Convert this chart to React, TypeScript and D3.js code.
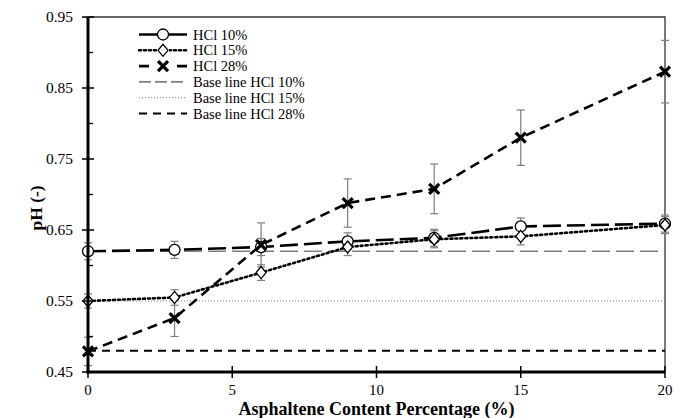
import React from 'react';
import * as d3 from 'd3';

// asphaltene content (%) and measured pH
const asphaltene = [0, 3, 6, 9, 12, 15, 20];
const hcl10 = [0.620, 0.622, 0.626, 0.634, 0.639, 0.655, 0.659];
const hcl10Err = [0.012, 0.012, 0.012, 0.012, 0.012, 0.012, 0.012];
const hcl15 = [0.550, 0.555, 0.590, 0.626, 0.637, 0.641, 0.657];
const hcl15Err = [0.010, 0.011, 0.011, 0.012, 0.012, 0.012, 0.012];
const hcl28 = [0.479, 0.526, 0.629, 0.688, 0.708, 0.780, 0.873];
const hcl28Err = [0.020, 0.026, 0.031, 0.034, 0.035, 0.039, 0.044];
const baseLines = [0.62, 0.55, 0.48];

const xTicks = [0, 5, 10, 15, 20];
const yTicks = [0.45, 0.55, 0.65, 0.75, 0.85, 0.95];
const yMinor = [0.5, 0.6, 0.7, 0.8, 0.9];

const W = 675;
const H = 418;
const left = 88, right = 665, top = 17, bottom = 372;
const font = '"Liberation Serif", "Times New Roman", serif';

const x = d3.scaleLinear().domain([0, 20]).range([left, right]);
const y = d3.scaleLinear().domain([0.45, 0.95]).range([bottom, top]);

type Marker = 'circle' | 'diamond' | 'cross';

const MarkerShape = ({ type, cx, cy }: { type: Marker; cx: number; cy: number }) => {
    if (type === 'circle') {
        return <circle cx={cx} cy={cy} r={5.5} fill="#fff" stroke="#000" strokeWidth={1.3} />;
    }
    if (type === 'diamond') {
        const s = 6;
        return (
            <path
                d={`M${cx},${cy - s}L${cx + s - 1},${cy}L${cx},${cy + s}L${cx - s + 1},${cy}Z`}
                fill="#fff"
                stroke="#000"
                strokeWidth={1.3}
            />
        );
    }
    const s = 5;
    return (
        <path
            d={`M${cx - s},${cy - s}L${cx + s},${cy + s}M${cx - s},${cy + s}L${cx + s},${cy - s}`}
            stroke="#000"
            strokeWidth={3.2}
        />
    );
};

const series = [
    { name: 'HCl 10%', values: hcl10, err: hcl10Err, dash: '18,6', marker: 'circle' as Marker, legendDash: 'none' },
    { name: 'HCl 15%', values: hcl15, err: hcl15Err, dash: '2,3', marker: 'diamond' as Marker, legendDash: '2,3' },
    { name: 'HCl 28%', values: hcl28, err: hcl28Err, dash: '10,6', marker: 'cross' as Marker, legendDash: '10,9' },
];

const baseStyles = [
    { name: 'Base line HCl 10%', stroke: '#808080', width: 1.6, dash: '18,6' },
    { name: 'Base line HCl 15%', stroke: '#808080', width: 1, dash: '1,2' },
    { name: 'Base line HCl 28%', stroke: '#000', width: 2, dash: '8,6' },
];

const line = d3.line<[number, number]>().x(d => x(d[0])).y(d => y(d[1]));

export default function App() {
    const legendX0 = 139, legendX1 = 187, legendText = 193, legendY0 = 34.5, legendStep = 15.8;
    return (
        <svg width={W} height={H} style={{ position: 'absolute', left: 0, top: 0, background: '#fff' }} fontFamily={font}>
            <rect width={W} height={H} fill="#fff" />

            {/* top and right border */}
            <path d={`M${left},${top}H${right}V${bottom}`} fill="none" stroke="#333" strokeWidth={1.3} />

            {/* base lines */}
            {baseLines.map((v, i) => (
                <path
                    key={'b' + i}
                    d={line([[0, v], [20, v]]) || ''}
                    fill="none"
                    stroke={baseStyles[i].stroke}
                    strokeWidth={baseStyles[i].width}
                    strokeDasharray={baseStyles[i].dash}
                />
            ))}

            {/* error bars */}
            {series.map((s, si) =>
                s.values.map((v, i) => {
                    const cx = x(asphaltene[i]);
                    const y1 = y(v + s.err[i]);
                    const y2 = y(v - s.err[i]);
                    return (
                        <g key={`e${si}-${i}`} stroke="#7f7f7f" strokeWidth={1.2}>
                            <line x1={cx} x2={cx} y1={y1} y2={y2} />
                            <line x1={cx - 4} x2={cx + 4} y1={y1} y2={y1} />
                            <line x1={cx - 4} x2={cx + 4} y1={y2} y2={y2} />
                        </g>
                    );
                })
            )}

            {/* series lines */}
            {series.map((s, si) => (
                <path
                    key={'l' + si}
                    d={line(s.values.map((v, i) => [asphaltene[i], v] as [number, number])) || ''}
                    fill="none"
                    stroke="#000"
                    strokeWidth={2.6}
                    strokeDasharray={s.dash}
                    strokeLinecap={si === 1 ? 'round' : 'butt'}
                />
            ))}

            {/* markers */}
            {series.map((s, si) =>
                s.values.map((v, i) => (
                    <MarkerShape key={`m${si}-${i}`} type={s.marker} cx={x(asphaltene[i])} cy={y(v)} />
                ))
            )}

            {/* axes */}
            <line x1={left} x2={left} y1={top} y2={bottom + 1.5} stroke="#000" strokeWidth={3} />
            <line x1={left - 1.5} x2={right} y1={bottom} y2={bottom} stroke="#000" strokeWidth={3} />

            {yTicks.map(t => (
                <g key={'yt' + t}>
                    <line x1={left - 6} x2={left + 6} y1={y(t)} y2={y(t)} stroke="#000" strokeWidth={1.5} />
                    <text x={left - 15} y={y(t)} dy="0.35em" textAnchor="end" fontSize={15.5}>
                        {d3.format('.2f')(t)}
                    </text>
                </g>
            ))}
            {yMinor.map(t => (
                <line key={'ym' + t} x1={left} x2={left + 5} y1={y(t)} y2={y(t)} stroke="#000" strokeWidth={1.3} />
            ))}
            {xTicks.map(t => (
                <g key={'xt' + t}>
                    <line x1={x(t)} x2={x(t)} y1={bottom - 6} y2={bottom + 6} stroke="#000" strokeWidth={1.5} />
                    <text x={x(t)} y={395} textAnchor="middle" fontSize={15}>
                        {t}
                    </text>
                </g>
            ))}

            {/* axis titles */}
            <text x={(left + right) / 2} y={415} textAnchor="middle" fontSize={18} fontWeight="bold">
                Asphaltene Content Percentage (%)
            </text>
            <text
                transform={`translate(42,208) rotate(-90)`}
                textAnchor="middle"
                fontSize={17.5}
                fontWeight="bold"
            >
                pH (-)
            </text>

            {/* legend */}
            {series.map((s, i) => {
                const ly = legendY0 + i * legendStep;
                const mid = (legendX0 + legendX1) / 2;
                return (
                    <g key={'lg' + i}>
                        <line
                            x1={legendX0}
                            x2={legendX1}
                            y1={ly}
                            y2={ly}
                            stroke="#000"
                            strokeWidth={2.6}
                            strokeDasharray={s.legendDash}
                            strokeLinecap={i === 1 ? 'round' : 'butt'}
                        />
                        {s.marker !== 'circle' && <rect x={mid - 6} y={ly - 6} width={12} height={12} fill="#fff" />}
                        <MarkerShape type={s.marker} cx={mid} cy={ly} />
                        <text x={legendText} y={ly} dy="0.35em" fontSize={14.5}>
                            {s.name}
                        </text>
                    </g>
                );
            })}
            {baseStyles.map((b, i) => {
                const ly = legendY0 + (i + 3) * legendStep;
                return (
                    <g key={'lb' + i}>
                        <line
                            x1={legendX0}
                            x2={legendX1}
                            y1={ly}
                            y2={ly}
                            stroke={b.stroke}
                            strokeWidth={b.width}
                            strokeDasharray={i === 0 ? '12,4' : b.dash}
                        />
                        <text x={legendText} y={ly} dy="0.35em" fontSize={14.5}>
                            {b.name}
                        </text>
                    </g>
                );
            })}
        </svg>
    );
}
